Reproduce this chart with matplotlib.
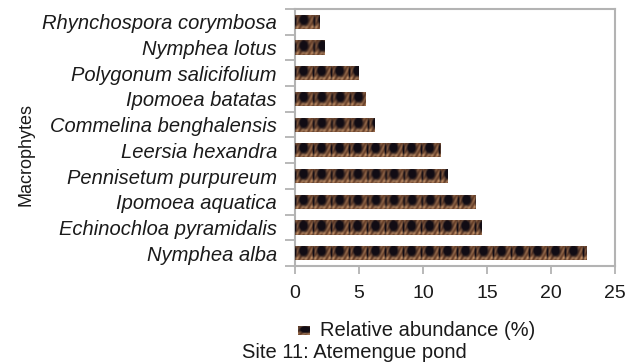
import numpy as np
import matplotlib
matplotlib.use("Agg")
import matplotlib.pyplot as plt
from matplotlib.ticker import FixedLocator

species = [
    "Rhynchospora corymbosa",
    "Nymphea lotus",
    "Polygonum salicifolium",
    "Ipomoea batatas",
    "Commelina benghalensis",
    "Leersia hexandra",
    "Pennisetum purpureum",
    "Ipomoea aquatica",
    "Echinochloa pyramidalis",
    "Nymphea alba",
]
abundance = [1.9, 2.3, 5.0, 5.5, 6.2, 11.4, 11.9, 14.1, 14.6, 22.8]
x_ticks = [0, 5, 10, 15, 20, 25]

plt.rcParams["font.family"] = ["Liberation Sans", "DejaVu Sans"]
FS = 14.5
FRAME = "#b3b3b3"
TEXT = "#1a1a1a"


def wood_texture(w_px, h_px):
    """Brown/black woven texture used to fill the bars."""
    w_px = max(int(round(w_px)), 2)
    h_px = max(int(round(h_px)), 2)
    u = np.arange(w_px)[None, :].astype(float)
    v = (np.arange(h_px)[:, None] + 0.5) / h_px
    phase = (u % 18.0) / 18.0
    blob = 2.2 * np.exp(-((phase - 0.45) / 0.22) ** 2 - ((v - 0.38) / 0.33) ** 2)
    blob2 = 1.2 * np.exp(-((phase - 0.0) / 0.06) ** 2 - ((v - 0.5) / 0.4) ** 2)
    blob3 = 1.2 * np.exp(-((phase - 1.0) / 0.06) ** 2 - ((v - 0.5) / 0.4) ** 2)
    grain = 0.5 + 0.5 * np.sin(2 * np.pi * (u / 4.5 + 2.0 * v))
    streak = np.exp(-((v - 0.86) / 0.09) ** 2) * (0.5 + 0.5 * np.cos(2 * np.pi * u / 9.0))
    base = np.array([0.42, 0.26, 0.17])
    tan = np.array([0.80, 0.60, 0.43])
    dark = np.array([0.07, 0.05, 0.08])
    g = np.clip(0.5 * grain + 0.8 * streak, 0, 1)[..., None]
    col = base * (1 - g) + tan * g
    d = np.clip(blob + blob2 + blob3, 0, 1)[..., None]
    col = col * (1 - d) + dark * d
    return np.clip(col, 0, 1)


fig = plt.figure(figsize=(6.44, 3.63), dpi=100)
ax = fig.add_axes([295 / 644, 1 - 266 / 363, 320 / 644, 257 / 363])

ypos = np.arange(len(species))
bars = ax.barh(ypos, abundance, height=0.55, color="#5a3a2a", linewidth=0)

px_per_unit = 320 / 25.0
px_per_row = 257 / len(species)
for patch in bars:
    x0, y0 = patch.get_x(), patch.get_y()
    w, h = patch.get_width(), patch.get_height()
    tex = wood_texture(w * px_per_unit, h * px_per_row)
    im = ax.imshow(tex, extent=(x0, x0 + w, y0 + h, y0), aspect="auto",
                   interpolation="bilinear", zorder=3)
    im.set_clip_path(patch)

ax.set_xlim(0, 25)
ax.set_ylim(len(species) - 0.5, -0.5)

ax.set_xticks(x_ticks)
ax.set_xticklabels([str(t) for t in x_ticks], fontsize=14, color=TEXT)
ax.set_yticks(ypos)
ax.set_yticklabels(species, fontsize=FS, style="italic", color=TEXT)
ax.yaxis.set_minor_locator(FixedLocator(np.arange(len(species) + 1) - 0.5))
ax.tick_params(axis="y", which="major", length=0, pad=13)
ax.tick_params(axis="y", which="minor", length=7, width=1.3, color=FRAME, direction="out")
ax.tick_params(axis="x", which="major", length=6, width=1.3, color=FRAME, pad=8)

for s in ax.spines.values():
    s.set_color(FRAME)
    s.set_linewidth(1.5)

fig.text(26 / 644, 1 - 155 / 363, "Macrophytes", rotation=90, fontsize=13,
         ha="center", va="center", color=TEXT)

# legend entry with a textured swatch
lax = fig.add_axes([298 / 644, 1 - 335 / 363, 12 / 644, 9 / 363])
lax.imshow(wood_texture(12, 9)[:, 3:12], aspect="auto", interpolation="bilinear")
lax.set_axis_off()
fig.text(320 / 644, 1 - 330 / 363, "Relative abundance (%)", fontsize=FS,
         ha="left", va="center", color=TEXT)
fig.text(354 / 644, 1 - 352 / 363, "Site 11: Atemengue pond", fontsize=FS,
         ha="center", va="center", color=TEXT)

fig.savefig("out.png", dpi=100)
